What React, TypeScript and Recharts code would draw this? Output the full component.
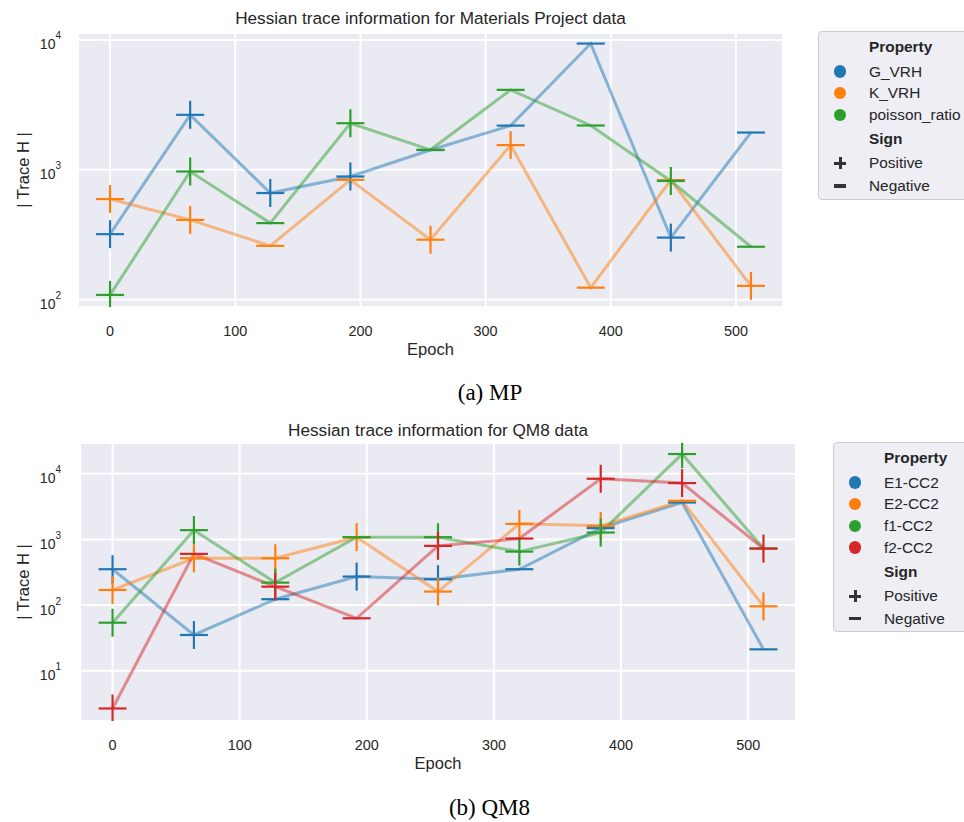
import React from 'react';
import { LineChart, Line, XAxis, YAxis, CartesianGrid, Legend } from 'recharts';

const sans = '"Liberation Sans", Arial, sans-serif';
const serif = '"Liberation Serif", "Times New Roman", serif';
const ink = '#262626';

type Sign = '+' | '-';

const epochs = [0, 64, 128, 192, 256, 320, 384, 448, 512];
const epochTicks = [0, 100, 200, 300, 400, 500];

// (a) Materials Project
const mpGVRH = [320, 2650, 663, 889, 1420, 2190, 9370, 301, 1937];
const mpKVRH = [596, 412, 260, 838, 290, 1550, 124, 834, 128];
const mpPoisson = [109, 971, 389, 2285, 1426, 4125, 2194, 821, 256];
const mpGVRHSign: Sign[] = ['+', '+', '+', '+', '-', '-', '-', '+', '-'];
const mpKVRHSign: Sign[] = ['+', '+', '-', '-', '+', '+', '-', '-', '+'];
const mpPoissonSign: Sign[] = ['+', '+', '-', '+', '-', '-', '-', '+', '-'];
const mpTicks = [100, 1000, 10000];

// (b) QM8
const qmE1 = [352, 35.1, 123, 272, 248, 352, 1486, 3650, 21.2];
const qmE2 = [170, 517, 517, 1082, 161, 1726, 1611, 3873, 95.9];
const qmF1 = [54, 1385, 220, 1082, 1082, 653, 1273, 19960, 727];
const qmF2 = [2.67, 603, 191, 63, 798, 1031, 8390, 7210, 727];
const qmE1Sign: Sign[] = ['+', '+', '-', '+', '+', '-', '-', '-', '-'];
const qmE2Sign: Sign[] = ['+', '+', '+', '+', '+', '+', '+', '-', '+'];
const qmF1Sign: Sign[] = ['+', '+', '+', '-', '+', '+', '+', '+', '-'];
const qmF2Sign: Sign[] = ['+', '-', '+', '-', '+', '-', '+', '+', '+'];
const qmTicks = [10, 100, 1000, 10000];

const palette = ['#1f77b4', '#ff7f0e', '#2ca02c', '#d62728'];

interface Series {
    key: string;
    color: string;
    values: number[];
    signs: Sign[];
}

const mpSeries: Series[] = [
    { key: 'G_VRH', color: palette[0], values: mpGVRH, signs: mpGVRHSign },
    { key: 'K_VRH', color: palette[1], values: mpKVRH, signs: mpKVRHSign },
    { key: 'poisson_ratio', color: palette[2], values: mpPoisson, signs: mpPoissonSign },
];

const qmSeries: Series[] = [
    { key: 'E1-CC2', color: palette[0], values: qmE1, signs: qmE1Sign },
    { key: 'E2-CC2', color: palette[1], values: qmE2, signs: qmE2Sign },
    { key: 'f1-CC2', color: palette[2], values: qmF1, signs: qmF1Sign },
    { key: 'f2-CC2', color: palette[3], values: qmF2, signs: qmF2Sign },
];

const toRows = (series: Series[]) =>
    epochs.map((epoch, i) => {
        const row: { [k: string]: number } = { epoch };
        series.forEach((s) => {
            row[s.key] = s.values[i];
        });
        return row;
    });

const SignMarker = (props: any) => {
    const { cx, cy, sign, color } = props;
    if (cx == null || cy == null) return <g />;
    const h = 14;
    return (
        <g>
            <line x1={cx - h} x2={cx + h} y1={cy} y2={cy} stroke={color} strokeWidth={2.2} />
            {sign === '+' && (
                <line x1={cx} x2={cx} y1={cy - h} y2={cy + h} stroke={color} strokeWidth={2.2} />
            )}
        </g>
    );
};

const XTick = (props: any) => {
    const { x, y, payload } = props;
    return (
        <text x={x} y={y + 28.5} textAnchor="middle" fontFamily={sans} fontSize={14.4} fill={ink}>
            {payload.value}
        </text>
    );
};

const YTick = (props: any) => {
    const { x, y, payload, gap } = props;
    const exp = Math.round(Math.log10(payload.value));
    return (
        <text x={x - gap} y={y + 9.5} textAnchor="end" fontFamily={sans} fontSize={14} fill={ink}>
            10
            <tspan dy={-10} fontSize={10}>
                {exp}
            </tspan>
        </text>
    );
};

const Bar = ({ x, y, w, h }: { x: number; y: number; w: number; h: number }) => (
    <span
        style={{ position: 'absolute', left: x - w / 2, top: y - h / 2, width: w, height: h, background: '#333' }}
    />
);

const PropertyLegend = ({ series, height }: { series: Series[]; height: number }) => {
    const rowY = (i: number) => 39.5 + 21.7 * i;
    const signY = rowY(series.length - 1) + 24;
    const posY = signY + 24.5;
    const negY = posY + 22.5;
    const text = (y: number, label: string, bold = false) => (
        <div
            style={{
                position: 'absolute',
                left: 50,
                top: y - 9,
                lineHeight: '18px',
                fontWeight: bold ? 700 : 400,
                whiteSpace: 'nowrap',
            }}
        >
            {label}
        </div>
    );
    return (
        <div
            style={{
                position: 'relative',
                width: 200,
                height,
                boxSizing: 'border-box',
                background: '#EEEEF4',
                border: '1px solid #CCCCCC',
                borderRadius: 4,
                fontFamily: sans,
                fontSize: 15.4,
                color: ink,
            }}
        >
            {text(14.5, 'Property', true)}
            {series.map((s, i) => (
                <React.Fragment key={s.key}>
                    <span
                        style={{
                            position: 'absolute',
                            left: 21 - 6.2,
                            top: rowY(i) - 6.2,
                            width: 12.4,
                            height: 12.4,
                            borderRadius: '50%',
                            background: s.color,
                        }}
                    />
                    {text(rowY(i), s.key)}
                </React.Fragment>
            ))}
            {text(signY, 'Sign', true)}
            <Bar x={21} y={posY} w={12} h={3} />
            <Bar x={21} y={posY} w={3} h={12} />
            {text(posY, 'Positive')}
            <Bar x={21} y={negY} w={12} h={3.5} />
            {text(negY, 'Negative')}
        </div>
    );
};

interface PanelProps {
    title: string;
    caption: string;
    series: Series[];
    top: number;
    height: number;
    plot: { top: number; right: number; bottom: number; left: number };
    yDomain: [number, number];
    yTicks: number[];
    tickGap: number;
    titleY: number;
    captionY: number;
    captionX: number;
    legendLeft: number;
    legendTop: number;
    legendHeight: number;
}

const HessianPanel: React.FC<PanelProps> = ({
    title,
    caption,
    series,
    top,
    height,
    plot,
    yDomain,
    yTicks,
    tickGap,
    titleY,
    captionY,
    captionX,
    legendLeft,
    legendTop,
    legendHeight,
}) => {
    const data = toRows(series);
    // axes take 1px each, so the margins leave that room
    const margin = { top: plot.top, right: 964 - plot.right, bottom: height - plot.bottom - 1, left: plot.left - 1 };
    const plotWidth = plot.right - plot.left;
    const midY = (plot.top + plot.bottom) / 2;
    return (
        <div style={{ position: 'absolute', left: 0, top, width: 964, height }}>
            <div
                style={{
                    position: 'absolute',
                    left: plot.left,
                    top: titleY - 14.5,
                    width: plotWidth,
                    textAlign: 'center',
                    fontFamily: sans,
                    fontSize: 17.2,
                    lineHeight: '17px',
                    color: ink,
                    whiteSpace: 'nowrap',
                }}
            >
                {title}
            </div>
            <LineChart width={964} height={height} data={data} margin={margin}>
                <CartesianGrid fill="#EAEAF2" stroke="#FFFFFF" strokeWidth={2} />
                <XAxis
                    dataKey="epoch"
                    type="number"
                    domain={[-25.6, 537.6]}
                    ticks={epochTicks}
                    allowDataOverflow
                    height={1}
                    axisLine={false}
                    tickLine={false}
                    tickSize={0}
                    tickMargin={0}
                    tick={(p: any) => <XTick {...p} />}
                />
                <YAxis
                    type="number"
                    scale="log"
                    domain={yDomain}
                    ticks={yTicks}
                    allowDataOverflow
                    width={1}
                    axisLine={false}
                    tickLine={false}
                    tickSize={0}
                    tickMargin={0}
                    tick={(p: any) => <YTick {...p} gap={tickGap - 1} />}
                />
                <Legend
                    layout="vertical"
                    align="center"
                    verticalAlign="middle"
                    wrapperStyle={{ left: legendLeft, top: legendTop, width: 200, height: legendHeight }}
                    content={() => <PropertyLegend series={series} height={legendHeight} />}
                />
                {series.map((s) => (
                    <Line
                        key={s.key}
                        dataKey={s.key}
                        stroke={s.color}
                        strokeOpacity={0.5}
                        strokeWidth={3}
                        dot={false}
                        activeDot={false}
                        legendType="none"
                        isAnimationActive={false}
                    />
                ))}
                {series.map((s) => (
                    <Line
                        key={`${s.key}-sign`}
                        dataKey={s.key}
                        stroke="none"
                        activeDot={false}
                        legendType="none"
                        isAnimationActive={false}
                        dot={(p: any) => (
                            <SignMarker
                                key={`${s.key}-${p.index}`}
                                cx={p.cx}
                                cy={p.cy}
                                sign={s.signs[p.index]}
                                color={s.color}
                            />
                        )}
                    />
                ))}
            </LineChart>
            <svg
                width={964}
                height={height}
                style={{ position: 'absolute', left: 0, top: 0, pointerEvents: 'none' }}
            >
                <text
                    x={(plot.left + plot.right) / 2}
                    y={plot.bottom + 48}
                    textAnchor="middle"
                    fontFamily={sans}
                    fontSize={16.5}
                    fill={ink}
                >
                    Epoch
                </text>
                <text
                    x={28.5}
                    y={midY}
                    transform={`rotate(-90, 28.5, ${midY})`}
                    textAnchor="middle"
                    fontFamily={sans}
                    fontSize={16.5}
                    fill={ink}
                >
                    | Trace H |
                </text>
            </svg>
            <div
                style={{
                    position: 'absolute',
                    left: captionX - 100,
                    top: captionY - 19.3,
                    width: 200,
                    textAlign: 'center',
                    fontFamily: serif,
                    fontSize: 23,
                    lineHeight: '23px',
                    color: '#000',
                }}
            >
                {caption}
            </div>
        </div>
    );
};

export default function App() {
    return (
        <div style={{ position: 'relative', width: 964, height: 822, overflow: 'hidden', background: '#fff' }}>
            <style>{'body{margin:0}'}</style>
            <HessianPanel
                title="Hessian trace information for Materials Project data"
                caption="(a) MP"
                series={mpSeries}
                top={0}
                height={410}
                plot={{ top: 33, right: 783, bottom: 307, left: 78 }}
                yDomain={[88, 11300]}
                yTicks={mpTicks}
                tickGap={18}
                titleY={24}
                captionY={400}
                captionX={490}
                legendLeft={818}
                legendTop={31}
                legendHeight={169}
            />
            <HessianPanel
                title="Hessian trace information for QM8 data"
                caption="(b) QM8"
                series={qmSeries}
                top={410}
                height={412}
                plot={{ top: 33, right: 796, bottom: 311, left: 80 }}
                yDomain={[1.72, 29400]}
                yTicks={qmTicks}
                tickGap={20}
                titleY={26}
                captionY={405}
                captionX={489.5}
                legendLeft={833}
                legendTop={32}
                legendHeight={190}
            />
        </div>
    );
}
